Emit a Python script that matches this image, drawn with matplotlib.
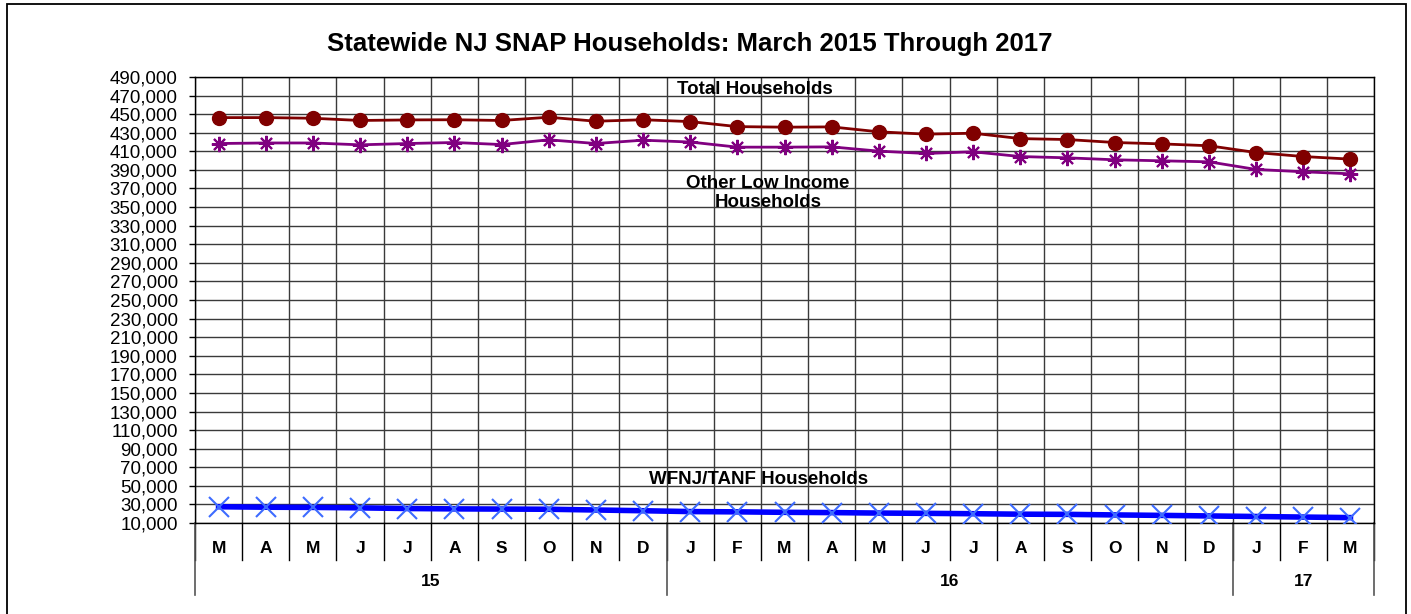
import matplotlib.pyplot as plt
import matplotlib.transforms as mtransforms
from matplotlib.patches import Rectangle
import numpy as np

plt.rcParams['font.family'] = ['Liberation Sans', 'DejaVu Sans']

# data
months = ["M", "A", "M", "J", "J", "A", "S", "O", "N", "D",
          "J", "F", "M", "A", "M", "J", "J", "A", "S", "O", "N", "D",
          "J", "F", "M"]
years = ["15"] * 10 + ["16"] * 12 + ["17"] * 3
total = [446300, 446300, 445600, 443200, 443800, 444000, 443200, 446700, 442400, 444000,
         442000, 436600, 436000, 436300, 431000, 428500, 429500, 423700, 422700, 419500,
         418000, 416000, 408700, 404400, 401600]
other = [418400, 419000, 419000, 417000, 418400, 419500, 417300, 422400, 418400, 422000,
         420000, 414500, 414500, 414800, 410200, 407700, 409500, 404400, 403000, 400900,
         399800, 398700, 390500, 388000, 385800]
wfnj = [27500, 27000, 26800, 26300, 25600, 25200, 25000, 24800, 24000, 23200,
        22300, 22000, 21500, 21200, 20700, 20400, 20000, 19500, 19300, 18700,
        18200, 17600, 17000, 16400, 15800]
yticks = list(range(10000, 490001, 20000))

fig = plt.figure(figsize=(14.11, 6.14), dpi=100)
ax = fig.add_axes([0.1382, 0.1482, 0.8356, 0.7264])

# outer chart border
fig.patches.append(Rectangle((7 / 1411, -0.05), 1399 / 1411, 1.05 - 4 / 614,
                             transform=fig.transFigure, fill=False,
                             edgecolor='black', linewidth=1.3))

x = np.arange(len(months))

ax.plot(x, wfnj, color='#0000FF', linewidth=4, marker='x', markersize=15,
        markeredgecolor='#3D6BFF', markeredgewidth=1.5, zorder=3)
ax.plot(x, other, color='#800080', linewidth=2, marker=(8, 2, 0), markersize=11,
        markeredgecolor='#800080', markeredgewidth=1.5, zorder=3)
ax.plot(x, total, color='#800000', linewidth=2, marker='o', markersize=10,
        markerfacecolor='#800000', markeredgecolor='#800000', zorder=3)

ax.set_xlim(-0.5, len(months) - 0.5)
ax.set_ylim(10000, 490000)
ax.set_yticks(yticks)
ax.set_yticklabels([f"{v:,}" for v in yticks], fontsize=13.5)
ax.tick_params(axis='y', direction='out', length=4.5, width=1, pad=8)
ax.set_xticks([])

# grid
for v in yticks:
    ax.axhline(v, color='#3a3a3a', linewidth=1.0, zorder=1)
for b in np.arange(-0.5, len(months), 1):
    ax.axvline(b, color='#3a3a3a', linewidth=1.0, zorder=1)
for s in ax.spines.values():
    s.set_color('black')
    s.set_linewidth(1.0)

# category axis: months and year groups
trans = mtransforms.blended_transform_factory(ax.transData, ax.transAxes)
for i, m in enumerate(months):
    ax.text(i, -0.058, m, transform=trans, ha='center', va='center',
            fontsize=12.5, fontweight='bold')
for b in np.arange(-0.5, len(months), 1):
    ax.plot([b, b], [0, -0.083], transform=trans, color='black',
            linewidth=1.0, clip_on=False)
starts = [0] + [i for i in range(1, len(years)) if years[i] != years[i - 1]]
ends = starts[1:] + [len(years)]
for s, e in zip(starts, ends):
    ax.text((s + e - 1) / 2, -0.132, years[s], transform=trans, ha='center',
            va='center', fontsize=12.5, fontweight='bold')
for b in [s - 0.5 for s in starts] + [len(years) - 0.5]:
    ax.plot([b, b], [0, -0.1614], transform=trans, color='#555555',
            linewidth=1.2, clip_on=False)

# series labels
ax.text(11.37, 477000, "Total Households", ha='center', va='center',
        fontsize=13.5, fontweight='bold')
ax.text(11.65, 365500, "Other Low Income\nHouseholds", ha='center', va='center',
        fontsize=13.5, fontweight='bold', linespacing=1.15)
ax.text(11.44, 57000, "WFNJ/TANF Households", ha='center', va='center',
        fontsize=13.5, fontweight='bold')

fig.text(690 / 1411, 1 - 44 / 614, "Statewide NJ SNAP Households: March 2015 Through 2017",
         ha='center', va='center', fontsize=18.5, fontweight='bold')

fig.savefig('out.png', dpi=100)
